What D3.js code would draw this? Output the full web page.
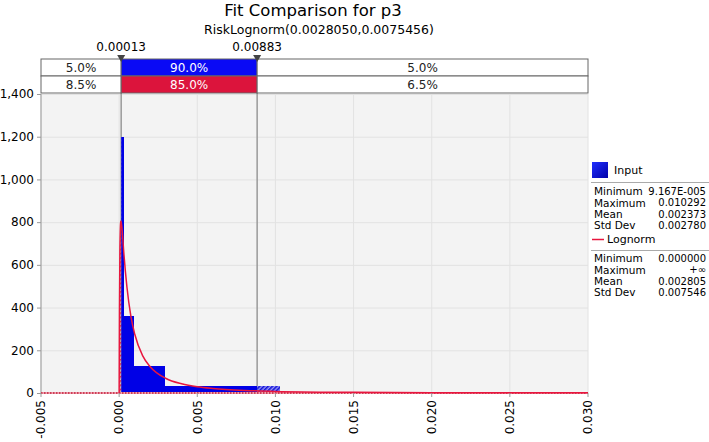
<!DOCTYPE html>
<html>
<head>
<meta charset="utf-8">
<script src="https://cdn.jsdelivr.net/npm/d3@7"></script>
<style>
  body { margin: 0; background: #fff; }
  text { font-family: "DejaVu Sans", sans-serif; }
</style>
</head>
<body>
<script>
// histogram bins of the input data: [start, end, density]
var binStart = [0.0000917, 0.0003, 0.00098, 0.00295];
var binEnd = [0.0003, 0.00098, 0.00295, 0.010292];
var binValue = [1200, 360, 125, 33];

// fitted lognormal curve
var curveX = [-0.005, 0, 0.00001, 0.00002, 0.00005, 0.0001, 0.00012, 0.0002, 0.0003, 0.0005,
	0.00075, 0.001, 0.0015, 0.002, 0.003, 0.004, 0.005, 0.006, 0.008, 0.010, 0.015, 0.020, 0.025, 0.030];
var curveY = [0, 0, 190, 380, 675, 800, 805, 755, 655, 495,
	360, 275, 175, 122, 68, 43, 29, 21, 12, 7.6, 3.1, 1.6, 0.9, 0.6];

// delimiters and the probability table
var markers = [0.00013, 0.00883];
var markerLabels = ['0.00013', '0.00883'];
var inputPct = ['5.0%', '90.0%', '5.0%'];
var fitPct = ['8.5%', '85.0%', '6.5%'];

var xTicks = [-0.005, 0, 0.005, 0.010, 0.015, 0.020, 0.025, 0.030];
var yTicks = [0, 200, 400, 600, 800, 1000, 1200, 1400];

var statLabels = ['Minimum', 'Maximum', 'Mean', 'Std Dev'];
var inputStats = ['9.167E-005', '0.010292', '0.002373', '0.002780'];
var fitStats = ['0.000000', '+\u221e', '0.002805', '0.007546'];

var width = 709,
	height = 442;

// plot box (note: "top" is taken by window.top, so use own names)
var pL = 41, pR = 588, pT = 94, pB = 393;

var svg = d3.select('body')
	.append('svg')
	.attr('width', width)
	.attr('height', height);

var x = d3.scaleLinear().domain([-0.005, 0.030]).range([pL, pR]);
var y = d3.scaleLinear().domain([0, 1400]).range([pB, pT]);

var loc = d3.formatLocale({decimal: '.', thousands: ',', grouping: [3], currency: ['', ''], minus: '-'});

var defs = svg.append('defs');

// hatch patterns for the tails outside the delimiters
var pb = defs.append('pattern')
	.attr('id', 'hatchBlue')
	.attr('patternUnits', 'userSpaceOnUse')
	.attr('width', 3).attr('height', 3)
	.attr('patternTransform', 'rotate(45)');
pb.append('rect').attr('width', 3).attr('height', 3).attr('fill', '#9a9af5');
pb.append('rect').attr('width', 1.6).attr('height', 3).attr('fill', '#1010d8');

var pr = defs.append('pattern')
	.attr('id', 'hatchRed')
	.attr('patternUnits', 'userSpaceOnUse')
	.attr('width', 3).attr('height', 3)
	.attr('patternTransform', 'rotate(45)');
pr.append('rect').attr('width', 1.4).attr('height', 3).attr('fill', '#e0204a');

var m0 = x(markers[0]), m1 = x(markers[1]);

var clipOut = defs.append('clipPath').attr('id', 'tails');
clipOut.append('rect').attr('x', pL).attr('y', pT).attr('width', m0 - pL).attr('height', pB - pT);
clipOut.append('rect').attr('x', m1).attr('y', pT).attr('width', pR - m1).attr('height', pB - pT);

var clipIn = defs.append('clipPath').attr('id', 'middle');
clipIn.append('rect').attr('x', m0).attr('y', pT).attr('width', m1 - m0).attr('height', pB - pT);

// titles
svg.append('text')
	.attr('x', 313).attr('y', 16)
	.attr('text-anchor', 'middle')
	.attr('font-size', 16.5)
	.text('Fit Comparison for p3');
svg.append('text')
	.attr('x', 319).attr('y', 34)
	.attr('text-anchor', 'middle')
	.attr('font-size', 12.5)
	.text('RiskLognorm(0.0028050,0.0075456)');

// plot background and grid
svg.append('rect')
	.attr('x', pL).attr('y', pT)
	.attr('width', pR - pL).attr('height', pB - pT)
	.attr('fill', '#f3f3f3');

svg.append('g').selectAll('line')
	.data(yTicks)
	.enter().append('line')
	.attr('x1', pL).attr('x2', pR)
	.attr('y1', function(d) { return y(d) + 0.5; })
	.attr('y2', function(d) { return y(d) + 0.5; })
	.attr('stroke', '#e2e2e2');

svg.append('g').selectAll('line')
	.data(xTicks)
	.enter().append('line')
	.attr('x1', function(d) { return x(d); })
	.attr('x2', function(d) { return x(d); })
	.attr('y1', pT).attr('y2', pB)
	.attr('stroke', '#e2e2e2');

// delimiter lines (under the bars)
svg.append('g').selectAll('line')
	.data(markers)
	.enter().append('line')
	.attr('x1', function(d) { return x(d); })
	.attr('x2', function(d) { return x(d); })
	.attr('y1', 59).attr('y2', pB)
	.attr('stroke', '#999')
	.attr('stroke-width', 1.5);

// histogram
var bins = binValue.map(function(v, i) { return {x0: binStart[i], x1: binEnd[i], v: v}; });

svg.append('g')
	.attr('clip-path', 'url(#middle)')
	.attr('shape-rendering', 'crispEdges')
	.selectAll('rect')
	.data(bins)
	.enter().append('rect')
	.attr('x', function(d) { return x(d.x0); })
	.attr('width', function(d) { return x(d.x1) - x(d.x0); })
	.attr('y', function(d) { return y(d.v); })
	.attr('height', function(d) { return y(0) - y(d.v); })
	.attr('fill', '#0000e6');

svg.append('g')
	.attr('clip-path', 'url(#tails)')
	.attr('shape-rendering', 'crispEdges')
	.selectAll('rect')
	.data(bins)
	.enter().append('rect')
	.attr('x', function(d) { return x(d.x0); })
	.attr('width', function(d) { return x(d.x1) - x(d.x0); })
	.attr('y', function(d) { return y(d.v); })
	.attr('height', function(d) { return y(0) - y(d.v); })
	.attr('fill', 'url(#hatchBlue)');

// fitted curve
var pts = curveX.map(function(v, i) { return [v, curveY[i]]; });

var area = d3.area()
	.x(function(d) { return x(d[0]); })
	.y0(y(0))
	.y1(function(d) { return y(d[1]); })
	.curve(d3.curveMonotoneX);

svg.append('path')
	.datum(pts)
	.attr('clip-path', 'url(#tails)')
	.attr('d', area)
	.attr('fill', 'url(#hatchRed)');

// axes
svg.append('line')
	.attr('x1', pL).attr('x2', pL)
	.attr('y1', pT).attr('y2', pB)
	.attr('stroke', '#999');
svg.append('line')
	.attr('x1', pL).attr('x2', pR)
	.attr('y1', pB).attr('y2', pB)
	.attr('stroke', '#f0a0b0')
	.attr('stroke-width', 2);
svg.append('line')
	.attr('x1', pL).attr('x2', pR)
	.attr('y1', pB).attr('y2', pB)
	.attr('stroke', '#c0203a')
	.attr('stroke-width', 1.5)
	.attr('stroke-dasharray', '1.5,1.5');

var line = d3.line()
	.x(function(d) { return x(d[0]); })
	.y(function(d) { return y(d[1]); })
	.curve(d3.curveMonotoneX);

svg.append('path')
	.datum(pts.slice(1))
	.attr('d', line)
	.attr('fill', 'none')
	.attr('stroke', '#e8163e')
	.attr('stroke-width', 1.5);

var yAxis = svg.append('g');
yAxis.selectAll('line')
	.data(yTicks)
	.enter().append('line')
	.attr('x1', pL - 4).attr('x2', pL)
	.attr('y1', function(d) { return y(d) + 0.5; })
	.attr('y2', function(d) { return y(d) + 0.5; })
	.attr('stroke', '#999');
yAxis.selectAll('text')
	.data(yTicks)
	.enter().append('text')
	.attr('x', pL - 7)
	.attr('y', function(d) { return y(d); })
	.attr('dy', '0.36em')
	.attr('text-anchor', 'end')
	.attr('font-size', 12)
	.text(loc.format(','));

var xAxis = svg.append('g');
xAxis.selectAll('line')
	.data(xTicks)
	.enter().append('line')
	.attr('x1', function(d) { return x(d); })
	.attr('x2', function(d) { return x(d); })
	.attr('y1', pB).attr('y2', pB + 4)
	.attr('stroke', '#999');
xAxis.selectAll('text')
	.data(xTicks)
	.enter().append('text')
	.attr('transform', function(d) { return 'translate(' + x(d) + ',' + (pB + 7) + ') rotate(-90)'; })
	.attr('dy', '0.36em')
	.attr('text-anchor', 'end')
	.attr('font-size', 12)
	.text(loc.format('.3f'));

// probability table
var tTop = 59, rowH = 17;
var edges = [pL, m0, m1, pR];
[inputPct, fitPct].forEach(function(row, r) {
	var g = svg.append('g');
	g.selectAll('rect')
		.data(row)
		.enter().append('rect')
		.attr('x', function(d, i) { return edges[i]; })
		.attr('width', function(d, i) { return edges[i + 1] - edges[i]; })
		.attr('y', tTop + r * rowH)
		.attr('height', rowH)
		.attr('fill', function(d, i) { return i === 1 ? (r === 0 ? '#0a0af5' : '#dc143c') : '#fff'; })
		.attr('stroke', '#666');
	g.selectAll('text')
		.data(row)
		.enter().append('text')
		.attr('x', function(d, i) { return (edges[i] + edges[i + 1]) / 2; })
		.attr('y', tTop + r * rowH + rowH / 2)
		.attr('dy', '0.36em')
		.attr('text-anchor', 'middle')
		.attr('font-size', 12)
		.attr('fill', function(d, i) { return i === 1 ? '#fff' : '#222'; })
		.text(function(d) { return d; });
});

// delimiter triangles and labels
svg.append('g').selectAll('path')
	.data(markers)
	.enter().append('path')
	.attr('d', function(d) { var c = x(d); return 'M' + (c - 4) + ',55 L' + (c + 4) + ',55 L' + c + ',62 Z'; })
	.attr('fill', '#444');
svg.append('g').selectAll('text')
	.data(markers)
	.enter().append('text')
	.attr('x', function(d) { return x(d); })
	.attr('y', 51)
	.attr('text-anchor', 'middle')
	.attr('font-size', 12)
	.text(function(d, i) { return markerLabels[i]; });

// legend
var lg = svg.append('g').attr('font-size', 10.5);
var grad = defs.append('linearGradient').attr('id', 'sq').attr('x1', 0).attr('y1', 0).attr('x2', 1).attr('y2', 1);
grad.append('stop').attr('offset', 0).attr('stop-color', '#2030ff');
grad.append('stop').attr('offset', 1).attr('stop-color', '#0000a8');
lg.append('rect')
	.attr('x', 592).attr('y', 162)
	.attr('width', 16).attr('height', 16)
	.attr('fill', 'url(#sq)');
lg.append('text').attr('x', 614).attr('y', 170).attr('dy', '0.36em').attr('font-size', 11).text('Input');
lg.append('line').attr('x1', 591).attr('x2', 709).attr('y1', 182.5).attr('y2', 182.5).attr('stroke', '#aaa');

lg.append('line').attr('x1', 592).attr('x2', 604).attr('y1', 239.5).attr('y2', 239.5).attr('stroke', '#e8163e').attr('stroke-width', 1.5);
lg.append('text').attr('x', 607).attr('y', 239.5).attr('dy', '0.36em').attr('font-size', 11).text('Lognorm');
lg.append('line').attr('x1', 591).attr('x2', 709).attr('y1', 250.5).attr('y2', 250.5).attr('stroke', '#aaa');

[[inputStats, 191.5], [fitStats, 258.5]].forEach(function(s) {
	lg.append('g').selectAll('text')
		.data(statLabels)
		.enter().append('text')
		.attr('x', 594)
		.attr('y', function(d, i) { return s[1] + i * 11.3; })
		.attr('dy', '0.36em')
		.text(function(d) { return d; });
	lg.append('g').selectAll('text')
		.data(s[0])
		.enter().append('text')
		.attr('x', 706)
		.attr('y', function(d, i) { return s[1] + i * 11.3; })
		.attr('dy', '0.36em')
		.attr('text-anchor', 'end')
		.attr('font-size', 10)
		.text(function(d) { return d; });
});
</script>
</body>
</html>
